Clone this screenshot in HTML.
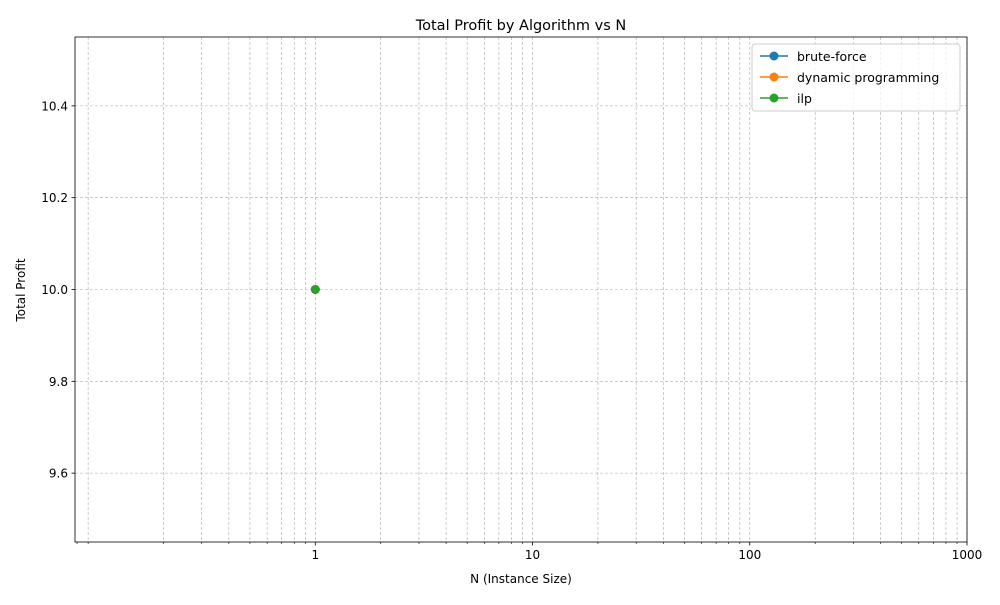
<!DOCTYPE html>
<html><head><meta charset="utf-8"><style>
body{margin:0;background:#fff;font-family:"Liberation Sans","DejaVu Sans",sans-serif;}
</style></head><body>
<svg id="chart" width="1000" height="600" xmlns="http://www.w3.org/2000/svg" font-family="DejaVu Sans, Liberation Sans, sans-serif">
<rect width="1000" height="600" fill="#fff"/>
<text x="521" y="30" text-anchor="middle" font-size="14.5">Total Profit by Algorithm vs N</text>
<text x="521" y="583" text-anchor="middle" font-size="12">N (Instance Size)</text>
<text transform="translate(25,290) rotate(-90)" text-anchor="middle" font-size="12">Total Profit</text>
<g id="grid"></g><g id="axes"></g><g id="marks"></g>
<g>
<rect x="752" y="44" width="208" height="67" fill="#fff" fill-opacity="0.8" stroke="#ccc" rx="3"/>
<g><line x1="760" y1="56" x2="788" y2="56" stroke="#1f77b4" stroke-width="1.5"/><circle cx="774" cy="56" r="4.5" fill="#1f77b4"/><text x="797" y="61" font-size="12.5">brute-force</text></g>
<g><line x1="760" y1="77" x2="788" y2="77" stroke="#ff7f0e" stroke-width="1.5"/><circle cx="774" cy="77" r="4.5" fill="#ff7f0e"/><text x="797" y="82" font-size="12.5">dynamic programming</text></g>
<g><line x1="760" y1="98" x2="788" y2="98" stroke="#2ca02c" stroke-width="1.5"/><circle cx="774" cy="98" r="4.5" fill="#2ca02c"/><text x="797" y="103" font-size="12.5">ilp</text></g>
</g>
</svg>
<script>
const seriesNames=["brute-force","dynamic programming","ilp"];
const seriesColors=["#1f77b4","#ff7f0e","#2ca02c"];
const nValues=[1];
const bruteForce=[10];
const dynamicProgramming=[10];
const ilp=[10];
const yTicks=[9.6,9.8,10.0,10.2,10.4];
const xMajor=[1,10,100,1000];
const xMinor=[0.09,0.2,0.3,0.4,0.5,0.6,0.7,0.8,0.9,2,3,4,5,6,7,8,9,20,30,40,50,60,70,80,90,200,300,400,500,600,700,800,900];
const L=75,R=967,T=37,B=542;
const xmin=Math.log10(0.0783),xmax=3;
const ymin=9.45,ymax=10.55;
const X=v=>L+(Math.log10(v)-xmin)/(xmax-xmin)*(R-L);
const Y=v=>B-(v-ymin)/(ymax-ymin)*(B-T);
const NS="http://www.w3.org/2000/svg";
function mk(p,t,a){const e=document.createElementNS(NS,t);for(const k in a)e.setAttribute(k,a[k]);p.appendChild(e);return e;}
const grid=document.getElementById('grid'),axes=document.getElementById('axes'),marks=document.getElementById('marks');
xMinor.forEach(v=>{const x=X(v);
const g=mk(grid,'line',{x1:x,x2:x,y1:T,y2:B,stroke:'#aaa','stroke-width':0.6,'stroke-dasharray':'3,2'});


mk(axes,'line',{x1:x,x2:x,y1:B,y2:B+2,stroke:'#000','stroke-width':0.6});});
mk(axes,'line',{x1:X(0.08),x2:X(0.08),y1:B,y2:B+2,stroke:'#000','stroke-width':0.6});
xMajor.forEach(v=>{const x=X(v);
const g=mk(grid,'line',{x1:x,x2:x,y1:T,y2:B,stroke:'#aaa','stroke-width':0.6,'stroke-dasharray':'3,2'});


mk(axes,'line',{x1:x,x2:x,y1:B,y2:B+3.5,stroke:'#000','stroke-width':0.8});
const t=mk(axes,'text',{x:x,y:B+17,'text-anchor':'middle','font-size':12});t.textContent=String(v);

});
yTicks.forEach(v=>{const y=Y(v);
const g=mk(grid,'line',{x1:L,x2:R,y1:y,y2:y,stroke:'#aaa','stroke-width':0.6,'stroke-dasharray':'3,2'});


mk(axes,'line',{x1:L-3.5,x2:L,y1:y,y2:y,stroke:'#000','stroke-width':0.8});
const t=mk(axes,'text',{x:L-7,y:y+4.5,'text-anchor':'end','font-size':12});t.textContent=v.toFixed(1);

});
const frame=mk(axes,'rect',{x:L,y:T,width:R-L,height:B-T,fill:'none',stroke:'#000','stroke-width':0.8});


[bruteForce,dynamicProgramming,ilp].forEach((s,i)=>{
const pts=nValues.map((n,j)=>X(n)+','+Y(s[j])).join(' ');
const pl=mk(marks,'polyline',{points:pts,fill:'none',stroke:seriesColors[i],'stroke-width':1.5});


nValues.forEach((n,j)=>{const c=mk(marks,'circle',{cx:X(n),cy:Y(s[j]),r:4.5,fill:seriesColors[i]});

});
});
</script>
</body></html>
